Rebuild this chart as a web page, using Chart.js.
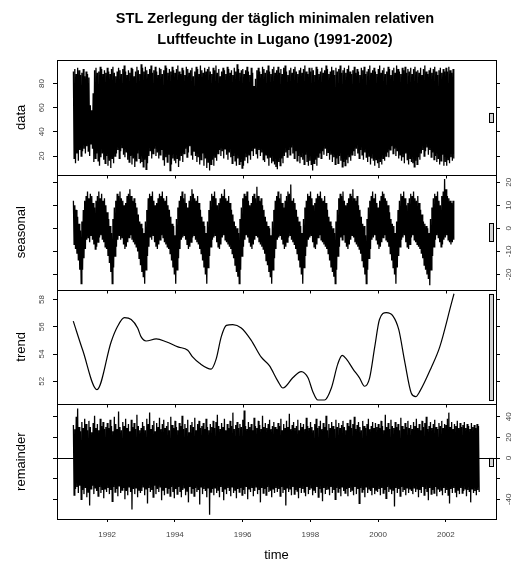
<!DOCTYPE html>
<html><head><meta charset="utf-8">
<script src="https://cdn.jsdelivr.net/npm/chart.js@4.4.1/dist/chart.umd.min.js"></script>
<style>html,body{margin:0;padding:0;background:#fff}#wrap{width:512px;height:563px;position:relative}</style>
</head><body><div id="wrap"><canvas id="c" width="512" height="563"></canvas></div>
<script>
const titleLines = ["STL Zerlegung der täglich minimalen relativen", "Luftfeuchte in Lugano (1991-2002)"];
const panelLabels = ["data", "seasonal", "trend", "remainder"];
const xLabel = "time";
const startYear = 1991;
const binsPerYear = 24;
const xTicks = [1992, 1994, 1996, 1998, 2000, 2002];
const dataTicks = [20, 40, 60, 80];
const seasonalTicks = [-20, -10, 0, 10, 20];
const trendTicks = [52, 54, 56, 58];
const remainderTicks = [-40, -20, 0, 20, 40];
const remainderTickLabels = [-40, 0, 20, 40];

const dataHigh = [
90,92,88,93,91,87,89,92,86,90,88,85,62,58,72,91,93,89,90,94,92,88,91,89,
93,90,88,92,94,89,86,90,93,91,88,92,95,90,87,91,89,93,92,86,90,94,91,88,
96,93,90,94,91,88,92,95,89,91,94,90,87,93,92,88,91,95,93,89,92,90,94,91,
89,92,95,90,88,93,91,87,94,92,89,91,93,86,90,94,92,88,95,91,89,93,90,92,
94,90,88,93,91,95,89,92,86,90,93,91,88,94,92,89,91,87,93,90,96,92,89,91,
92,88,91,94,90,87,93,89,78,84,91,93,90,88,94,92,89,91,95,90,88,92,94,89,
91,94,89,92,88,93,95,90,87,91,93,89,92,94,90,88,91,93,89,92,95,90,88,93,
90,93,91,87,94,92,88,90,93,89,91,95,92,88,90,94,91,87,93,90,92,95,89,91,
93,89,92,95,90,88,91,94,89,92,90,87,93,91,94,88,90,92,95,89,91,93,90,88,
92,95,89,91,93,88,90,94,92,87,91,93,89,95,92,90,88,93,91,94,89,92,90,93,
88,92,94,90,91,89,93,87,92,95,90,88,91,93,89,92,94,90,87,91,93,89,92,90,
93,90,94,91,89,92];
const dataLow = [
18,14,22,16,25,20,24,26,22,28,24,20,30,26,15,18,22,16,12,19,22,17,14,20,
12,16,10,18,14,20,22,25,18,24,27,21,19,23,17,15,20,13,18,11,16,22,18,14,
15,11,17,9,14,20,24,18,22,26,20,23,18,21,25,17,12,19,15,21,8,13,18,16,
14,18,11,16,20,15,22,26,19,23,28,21,17,24,20,15,19,13,17,22,12,18,10,15,
8,13,17,12,19,16,22,25,20,24,18,26,21,17,23,19,14,20,16,12,18,13,15,10,
12,16,19,14,21,17,24,20,26,22,18,25,20,23,17,15,21,18,12,19,14,16,13,11,
9,15,12,18,14,20,23,19,25,21,27,22,18,24,16,20,14,19,17,13,21,15,12,16,
13,8,14,17,12,19,22,18,24,21,26,20,23,17,21,15,19,13,18,14,20,16,11,15,
12,17,14,19,16,21,24,20,26,22,18,25,21,17,23,19,15,20,13,18,16,12,17,14,
10,15,13,18,16,20,23,19,25,28,22,26,20,24,18,21,16,19,14,22,17,13,18,15,
14,11,16,13,19,17,22,25,20,24,27,21,25,19,23,17,20,15,18,13,16,21,12,15,
12,17,14,19,16,18];
const seasonalHigh = [
12,10,8,5,2,-1,3,8,12,14,16,13,15,14,11,9,12,14,16,13,15,12,13,10,
7,4,1,-2,4,9,12,15,14,16,13,12,10,11,14,15,17,14,12,13,11,9,6,3,
2,0,-2,3,8,13,15,14,16,12,10,11,13,15,14,16,13,12,14,10,8,5,2,1,
-3,4,9,12,14,16,13,15,11,9,12,14,17,15,13,12,14,11,8,5,3,1,-2,3,
8,12,15,14,16,13,10,11,13,15,14,17,13,12,14,11,8,6,3,1,0,-2,4,9,
13,15,14,16,12,10,11,14,15,13,18,14,12,13,10,8,5,3,1,0,-3,3,8,12,
14,16,13,15,11,9,12,14,16,15,19,12,13,11,8,5,3,1,-2,4,9,12,15,14,
16,13,10,11,13,15,14,16,13,12,14,11,8,5,3,1,0,-2,3,8,13,15,14,16,
12,10,11,13,15,14,17,13,12,14,10,8,5,2,1,-3,4,9,12,14,16,13,15,11,
9,12,14,16,15,13,12,10,7,4,2,1,-2,3,8,12,15,14,16,13,10,11,13,15,
14,16,13,12,14,11,8,6,3,2,1,0,-2,4,9,13,15,14,16,12,10,14,16,21.4,
17,14,13,12,11,12];
const seasonalLow = [
-7,-9,-11,-14,-18,-24,-18,-13,-9,-5,-4,-6,-3,-5,-7,-9,-8,-6,-4,-3,-5,-6,-8,-9,
-12,-15,-19,-24,-17,-12,-8,-5,-3,-5,-4,-7,-9,-8,-6,-4,-3,-5,-6,-7,-8,-10,-13,-16,
-19,-21,-24,-18,-12,-8,-4,-5,-3,-6,-8,-9,-7,-5,-3,-4,-6,-7,-8,-9,-11,-14,-17,-20,
-24,-18,-13,-9,-5,-4,-3,-5,-7,-9,-8,-6,-4,-3,-5,-6,-7,-9,-11,-14,-17,-20,-24,-17,
-12,-8,-5,-4,-3,-6,-8,-9,-7,-4,-3,-5,-6,-7,-8,-9,-11,-13,-16,-19,-21,-24,-18,-12,
-8,-5,-3,-4,-6,-8,-9,-7,-5,-3,-4,-6,-7,-8,-9,-11,-14,-16,-19,-21,-24,-18,-13,-9,
-5,-4,-3,-5,-7,-9,-8,-6,-4,-3,-5,-6,-7,-9,-11,-14,-17,-20,-24,-17,-12,-8,-5,-4,
-3,-6,-8,-9,-7,-4,-3,-5,-6,-7,-8,-9,-11,-14,-17,-19,-21,-24,-18,-12,-8,-4,-5,-3,
-6,-8,-9,-7,-5,-3,-4,-6,-7,-8,-9,-11,-14,-17,-20,-24,-18,-13,-9,-5,-4,-3,-5,-7,
-9,-8,-6,-4,-3,-5,-6,-8,-11,-14,-17,-20,-24,-17,-12,-8,-5,-4,-3,-6,-8,-9,-7,-4,
-3,-5,-6,-7,-8,-9,-11,-13,-16,-18,-20,-22,-24.7,-18,-12,-8,-5,-3,-4,-6,-8,-7,-5,-4,
-3,-5,-6,-7,-6,-5];
const trendTime = [1991.00,1991.28,1991.70,1992.12,1992.31,1992.51,1992.71,1992.90,1993.00,1993.15,1993.45,1993.74,1994.09,1994.38,1994.53,1994.73,1995.07,1995.22,1995.37,1995.52,1995.71,1995.96,1996.25,1996.55,1996.79,1997.04,1997.19,1997.48,1997.73,1997.93,1998.07,1998.22,1998.42,1998.62,1998.81,1998.94,1999.06,1999.26,1999.45,1999.60,1999.75,1999.90,2000.04,2000.24,2000.44,2000.61,2000.78,2000.98,2001.11,2001.23,2001.57,2001.82,2002.16,2002.24];
const trendValue = [56.42,54.28,51.39,54.91,56.04,56.67,56.54,55.92,55.28,54.96,55.11,54.91,54.53,54.28,53.77,53.32,52.90,53.65,55.28,56.11,56.17,55.92,55.03,53.77,53.15,52.02,51.51,52.26,52.72,52.26,51.26,50.63,50.63,51.51,53.28,53.90,53.65,52.90,52.26,51.64,52.26,54.53,56.54,57.04,56.79,55.79,53.52,51.13,50.88,51.26,53.02,54.53,57.68,58.43];
const remainderHigh = [
32,28,40,48,30,26,35,29,38,33,27,36,30,25,34,41,29,33,27,38,31,35,28,30,
34,29,37,31,26,40,33,28,45,30,27,35,31,38,29,33,26,37,30,34,28,42,31,27,
29,35,31,27,38,33,44,28,32,36,26,34,30,39,28,33,37,29,31,35,27,40,32,29,
36,30,27,34,31,41,28,33,29,37,25,32,35,30,39,27,33,36,29,31,34,28,38,30,
27,33,30,36,29,35,42,31,28,34,30,38,27,33,29,36,31,44,28,32,35,29,33,30,
37,46,31,28,35,30,33,27,39,31,29,36,32,28,41,30,34,29,33,37,28,31,35,30,
28,34,31,38,27,33,29,36,30,43,28,32,35,29,31,37,27,34,30,33,28,39,31,29,
35,30,27,33,38,29,31,36,28,34,30,41,27,33,29,35,31,28,37,30,34,29,32,36,
30,27,34,31,37,29,33,40,28,32,35,30,27,36,31,29,33,38,28,31,35,29,34,30,
33,29,36,31,27,42,30,34,28,37,31,29,35,30,33,27,39,31,28,34,30,36,29,32,
28,35,31,38,29,33,27,36,30,34,40,28,31,35,29,33,37,30,28,34,31,36,29,33,
32,38,44,30,35,28,33,31,36,29,34,30,32,35,29,33,31,28,34,30,32,29,33,31];
const remainderLow = [
-36,-30,-28,-34,-27,-40,-31,-35,-29,-38,-33,-46,-30,-27,-35,-29,-32,-37,-28,-34,-31,-39,-30,-33,
-29,-35,-31,-42,-28,-33,-30,-37,-27,-34,-31,-29,-40,-32,-36,-28,-33,-50,-30,-35,-29,-38,-31,-34,
-32,-28,-36,-30,-44,-29,-33,-31,-38,-27,-35,-30,-33,-28,-41,-31,-36,-29,-34,-30,-37,-28,-33,-39,
-30,-35,-28,-33,-38,-31,-29,-36,-32,-43,-28,-34,-30,-37,-29,-33,-31,-45,-28,-35,-30,-32,-38,-29,
-55,-33,-30,-36,-29,-34,-31,-38,-28,-33,-41,-30,-35,-29,-32,-37,-28,-34,-31,-39,-30,-33,-29,-36,
-31,-35,-28,-40,-30,-33,-29,-37,-32,-28,-35,-31,-43,-29,-34,-30,-36,-28,-33,-31,-38,-30,-34,-29,
-33,-30,-37,-28,-34,-31,-46,-29,-33,-30,-36,-28,-35,-31,-32,-39,-29,-34,-30,-33,-37,-28,-35,-31,
-29,-36,-31,-34,-28,-38,-30,-33,-42,-29,-35,-31,-30,-36,-28,-34,-31,-40,-29,-33,-30,-37,-28,-32,
-34,-30,-37,-29,-33,-31,-36,-28,-35,-30,-44,-29,-33,-31,-38,-28,-34,-30,-32,-36,-29,-35,-31,-33,
-30,-36,-29,-34,-31,-39,-28,-33,-30,-35,-31,-47,-29,-34,-30,-37,-28,-33,-31,-36,-29,-34,-30,-32,
-35,-29,-33,-30,-38,-31,-34,-28,-36,-30,-33,-41,-29,-35,-31,-34,-28,-37,-30,-33,-31,-36,-29,-34,
-31,-36,-44,-30,-34,-29,-33,-38,-31,-35,-29,-34,-32,-30,-37,-31,-33,-43,-30,-34,-32,-36,-31,-33];

const FONT = "'Liberation Sans', Arial, Helvetica, sans-serif";

function zigzag(hi, lo) {
  const w = 1 / binsPerYear, pts = [];
  hi.forEach((h, i) => {
    const t = startYear + i * w;
    pts.push({x: t + 0.1 * w, y: h});
    pts.push({x: t + 0.6 * w, y: lo[i]});
  });
  return pts;
}
function range(lo, hi) {
  return {lo: Math.min(...lo), hi: Math.max(...hi)};
}
function padded(r) {
  const p = (r.hi - r.lo) * 0.04;
  return {min: r.lo - p, max: r.hi + p};
}
const ranges = [
  range(dataLow, dataHigh),
  range(seasonalLow, seasonalHigh),
  range(trendValue, trendValue),
  range(remainderLow, remainderHigh)
];
const tEnd = startYear + remainderHigh.length / binsPerYear;
const xPad = (tEnd - startYear) * 0.04;
const xMin = startYear - xPad, xMax = tEnd + xPad;

const tickSets = [dataTicks, seasonalTicks, trendTicks, remainderTicks];
const leftIds = ['yD', 'yS', 'yT', 'yR'];
const rightIds = ['rD', 'rS', 'rT', 'rR'];

function yAxis(pos, idx, weight) {
  const b = padded(ranges[idx]);
  const showLabels = (pos === 'left') ? (idx % 2 === 0) : (idx % 2 === 1);
  return {
    type: 'linear', position: pos, stack: pos, stackWeight: 1, weight: weight,
    min: b.min, max: b.max,
    afterBuildTicks: s => { s.ticks = tickSets[idx].map(v => ({value: v})); },
    afterFit: s => { s.width = pos === 'left' ? 57 : 16; },
    grid: {display: true, drawOnChartArea: false, drawTicks: true, tickLength: 4, color: '#000', lineWidth: 1},
    border: {display: false},
    ticks: {
      display: showLabels, minRotation: 90, maxRotation: 90, crossAlign: 'center',
      padding: pos === 'left' ? 7 : 3, autoSkip: false,
      font: {family: FONT, size: 8}, color: '#444',
      callback: v => (idx === 3 && !remainderTickLabels.includes(v)) ? '' : String(v)
    },
    title: pos === 'left' ? {display: true, text: panelLabels[idx], color: '#000', font: {family: FONT, size: 13}, padding: {top: 14, bottom: 0}} : {display: false}
  };
}

const scales = {
  x: {
    type: 'linear', position: 'bottom', min: xMin, max: xMax,
    afterBuildTicks: s => { s.ticks = xTicks.map(v => ({value: v})); },
    afterFit: s => { s.height = 44; },
    grid: {drawOnChartArea: false, drawTicks: true, tickLength: 3, color: '#000'},
    border: {display: false},
    ticks: {font: {family: FONT, size: 8}, color: '#444', padding: 8, maxRotation: 0, autoSkip: false, callback: v => String(v)},
    title: {display: true, text: xLabel, color: '#000', font: {family: FONT, size: 13}, padding: {top: 0, bottom: 0}}
  }
};
leftIds.forEach((id, i) => { scales[id] = yAxis('left', i, 4 - i); });
rightIds.forEach((id, i) => { scales[id] = yAxis('right', i, i + 1); });

const framePlugin = {
  id: 'frames',
  afterDatasetsDraw(chart) {
    const ctx = chart.ctx, ca = chart.chartArea, xs = chart.scales.x;
    ctx.save();
    ctx.strokeStyle = '#000'; ctx.lineWidth = 1;
    const yr = chart.scales.yR;
    const y0 = Math.round(yr.getPixelForValue(0)) + 0.5;
    ctx.beginPath(); ctx.moveTo(ca.left, y0); ctx.lineTo(ca.right, y0); ctx.stroke();
    const mx = Math.min(...ranges.map(r => r.hi - r.lo));
    const dx = (xs.max - xs.min) / 64;
    const xa = xs.getPixelForValue(xs.max - dx), xb = xs.getPixelForValue(xs.max - 0.4 * dx);
    leftIds.forEach((id, i) => {
      const s = chart.scales[id];
      const c = (ranges[i].lo + ranges[i].hi) / 2;
      const ya = s.getPixelForValue(c + mx / 2), yb = s.getPixelForValue(c - mx / 2);
      ctx.fillStyle = '#d3d3d3';
      ctx.fillRect(xa, ya, xb - xa, yb - ya);
      ctx.strokeRect(Math.round(xa) + 0.5, Math.round(ya) + 0.5, Math.round(xb - xa), Math.round(yb - ya));
    });
    leftIds.forEach((id, i) => {
      const s = chart.scales[id];
      const t = Math.round(s.top) + 0.5, b = Math.round(s.bottom) + 0.5;
      ctx.strokeRect(Math.round(ca.left) + 0.5, t, Math.round(ca.right - ca.left), b - t);
      if (i < 3) {
        xTicks.forEach(v => {
          const px = Math.round(xs.getPixelForValue(v)) + 0.5;
          ctx.beginPath(); ctx.moveTo(px, b); ctx.lineTo(px, b + 3); ctx.stroke();
        });
      }
    });
    ctx.restore();
  },
  afterDraw(chart) {
    const ctx = chart.ctx;
    ctx.save();
    ctx.fillStyle = '#000';
    ctx.font = "bold 14.5px " + FONT;
    ctx.textAlign = 'center'; ctx.textBaseline = 'middle';
    ctx.fillText(titleLines[0], 275, 19);
    ctx.fillText(titleLines[1], 275, 40);
    ctx.restore();
  }
};

const lineDs = (pts, yid, bw) => ({
  data: pts, yAxisID: yid, xAxisID: 'x', borderColor: '#000', borderWidth: bw,
  pointRadius: 0, fill: false, tension: 0
});

new Chart(document.getElementById('c'), {
  type: 'line',
  data: {
    datasets: [
      lineDs(zigzag(dataHigh, dataLow), 'yD', 1.3),
      lineDs(zigzag(seasonalHigh, seasonalLow), 'yS', 1.3),
      Object.assign(lineDs(trendTime.map((t, i) => ({x: t, y: trendValue[i]})), 'yT', 1.2), {cubicInterpolationMode: 'monotone'}),
      lineDs(zigzag(remainderHigh, remainderLow), 'yR', 1.3)
    ]
  },
  options: {
    responsive: false, animation: false,
    layout: {padding: {top: 60, left: 0, right: 0, bottom: 0}},
    plugins: {legend: {display: false}, tooltip: {enabled: false}, title: {display: false}},
    scales: scales
  },
  plugins: [framePlugin]
});
</script></body></html>
